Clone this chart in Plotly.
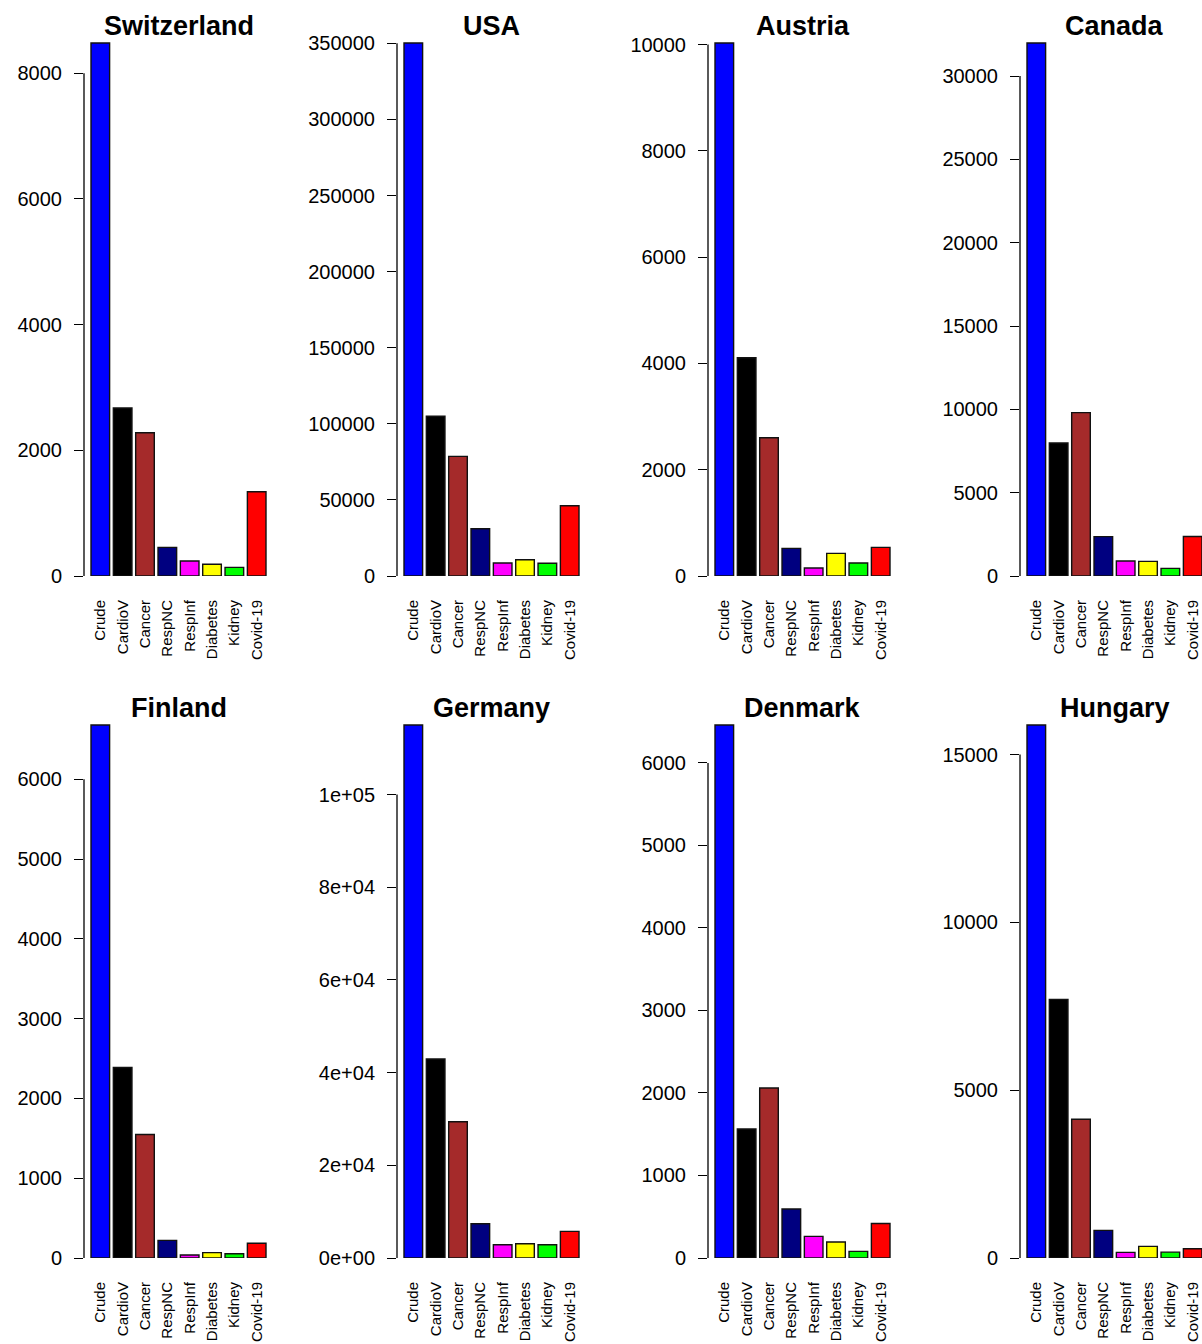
import plotly.graph_objects as go

# ---------------- data ----------------
categories = ["Crude", "CardioV", "Cancer", "RespNC", "RespInf", "Diabetes", "Kidney", "Covid-19"]
bar_colors = ["#0000FF", "#000000", "#A52A2A", "#000080", "#FF00FF", "#FFFF00", "#00FF00", "#FF0000"]

countries = ["Switzerland", "USA", "Austria", "Canada", "Finland", "Germany", "Denmark", "Hungary"]

switzerland = [8480, 2672, 2279, 456, 239, 186, 138, 1341]
usa = [350200, 105000, 78600, 31060, 8540, 10700, 8400, 46160]
austria = [10030, 4106, 2602, 520, 150, 426, 245, 539]
canada = [31980, 7980, 9800, 2360, 900, 880, 460, 2370]
finland = [6680, 2388, 1547, 221, 38, 67, 54, 184]
germany = [115000, 42930, 29400, 7400, 2870, 3085, 2850, 5740]
denmark = [6460, 1564, 2061, 594, 262, 194, 80, 419]
hungary = [15880, 7706, 4135, 823, 167, 346, 175, 277]

series = [switzerland, usa, austria, canada, finland, germany, denmark, hungary]

ticks_switzerland = [0, 2000, 4000, 6000, 8000]
ticks_usa = [0, 50000, 100000, 150000, 200000, 250000, 300000, 350000]
ticks_austria = [0, 2000, 4000, 6000, 8000, 10000]
ticks_canada = [0, 5000, 10000, 15000, 20000, 25000, 30000]
ticks_finland = [0, 1000, 2000, 3000, 4000, 5000, 6000]
ticks_germany = [0, 20000, 40000, 60000, 80000, 100000]
ticklabels_germany = ["0e+00", "2e+04", "4e+04", "6e+04", "8e+04", "1e+05"]
ticks_denmark = [0, 1000, 2000, 3000, 4000, 5000, 6000]
ticks_hungary = [0, 5000, 10000, 15000]

tickvals_all = [ticks_switzerland, ticks_usa, ticks_austria, ticks_canada,
                ticks_finland, ticks_germany, ticks_denmark, ticks_hungary]
ticktext_all = [[str(v) for v in t] for t in tickvals_all]
ticktext_all[5] = ticklabels_germany

# ---------------- layout geometry (pixels) ----------------
W, H = 1202, 1344
axis_px = [84, 397, 708, 1020]
panel_w = 189
zero_px = [576, 1258]
crude_span = 533
headroom = 1.02

FONT = "Liberation Sans, Arial, sans-serif"

fig = go.Figure()
shapes = []
annotations = []

for k, (name, vals) in enumerate(zip(countries, series)):
    row, col = divmod(k, 4)
    idx = k + 1
    xa = "xaxis" if idx == 1 else f"xaxis{idx}"
    ya = "yaxis" if idx == 1 else f"yaxis{idx}"
    xr = "x" if idx == 1 else f"x{idx}"
    yr = "y" if idx == 1 else f"y{idx}"

    left = axis_px[col]
    right = min(left + panel_w, W)
    px_per_cat = panel_w / 8.46
    x_lo = -0.73
    x_hi = x_lo + (right - left) / px_per_cat

    y0_px = zero_px[row]
    top_px = y0_px - crude_span * headroom
    ymax = vals[0] * headroom

    fig.add_trace(go.Bar(
        x=categories, y=vals,
        marker=dict(color=bar_colors, line=dict(color="#111111", width=1.4)),
        xaxis=xr, yaxis=yr, showlegend=False, hoverinfo="x+y",
    ))

    fig.layout[xa] = dict(
        domain=[left / W, right / W], anchor=yr, range=[x_lo, x_hi],
        type="category", showline=False, showgrid=False, zeroline=False,
        automargin=False,
        ticks="", tickangle=-90, ticklabelstandoff=20,
        tickfont=dict(family=FONT, size=15, color="#000000"),
    )
    fig.layout[ya] = dict(
        domain=[1 - y0_px / H, 1 - top_px / H], anchor=xr, range=[0, ymax],
        showline=False, showgrid=False, zeroline=False,
        automargin=False,
        ticks="outside", ticklen=9, tickwidth=1.3, tickcolor="#000000",
        tickvals=tickvals_all[k], ticktext=ticktext_all[k],
        ticklabelstandoff=8,
        tickfont=dict(family=FONT, size=20, color="#000000"),
    )

    shapes.append(dict(
        type="line", xref=f"{xr} domain", yref=yr,
        x0=0, x1=0, y0=0, y1=tickvals_all[k][-1],
        line=dict(color="#000000", width=1.3),
    ))

    annotations.append(dict(
        text=f"<b>{name}</b>", xref="paper", yref="paper",
        x=(left + panel_w / 2) / W, y=1 - (y0_px - 533) / H,
        xanchor="center", yanchor="bottom", showarrow=False,
        font=dict(family=FONT, size=27, color="#000000"),
    ))

fig.update_layout(
    width=W, height=H,
    margin=dict(l=0, r=0, t=0, b=0, autoexpand=False),
    paper_bgcolor="white", plot_bgcolor="white",
    bargap=1 / 6,
    shapes=shapes, annotations=annotations,
)

fig.write_html(
    "out.html",
    config={"displayModeBar": False},
    post_script="document.body.style.margin='0';document.body.style.padding='0';"
                "document.body.style.overflow='hidden';",
)
